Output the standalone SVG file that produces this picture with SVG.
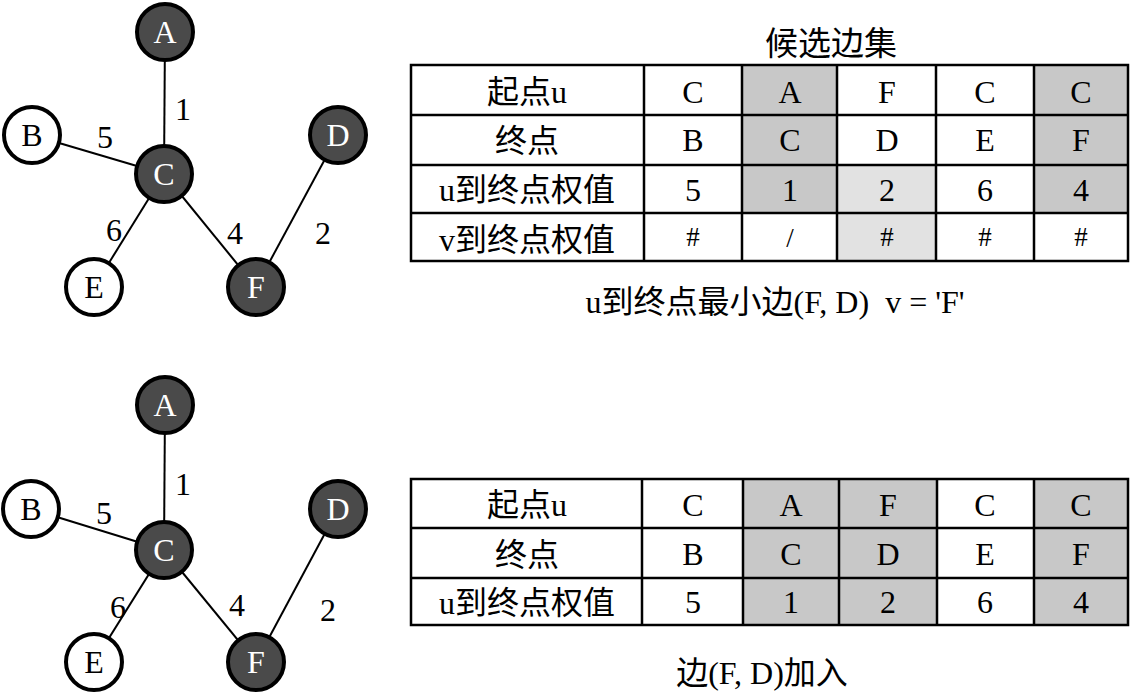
<svg xmlns="http://www.w3.org/2000/svg" width="1132" height="694" viewBox="0 0 1132 694">
<style>
text{font-family:"Liberation Serif","Noto Sans CJK SC",serif;fill:#000}
.nl{font-size:32px;text-anchor:middle}
.dk circle{fill:#4a4a4a;stroke:#000;stroke-width:4}
.dk text{fill:#fff}
.wt circle{fill:#fff;stroke:#000;stroke-width:4}
.edge{stroke:#000;stroke-width:2}
.wl{font-size:32px;text-anchor:middle}
.tt{font-size:32px;text-anchor:middle}
.grid{fill:none;stroke:#000;stroke-width:2.5}
.g1{fill:#c8c8c8}
.g2{fill:#e2e2e2}
.cap{font-size:32px;text-anchor:middle}
.hs{font-size:27px}
</style>

<!-- top graph connectors -->
<g id="edges-top">
<line class="edge" x1="165" y1="32" x2="164" y2="174"/>
<line class="edge" x1="32" y1="135" x2="164" y2="174"/>
<line class="edge" x1="164" y1="174" x2="94" y2="287"/>
<line class="edge" x1="164" y1="174" x2="256" y2="287"/>
<line class="edge" x1="338" y1="135" x2="256" y2="287"/>
<text class="wl" x="183" y="120">1</text>
<text class="wl" x="105" y="148">5</text>
<text class="wl" x="114" y="241">6</text>
<text class="wl" x="235" y="244">4</text>
<text class="wl" x="323" y="244">2</text>
</g>
<g id="t-A" class="dk"><circle cx="165" cy="32" r="28"/><text class="nl" x="165" y="43">A</text></g>
<g id="t-B" class="wt"><circle cx="32" cy="135" r="28"/><text class="nl" x="32" y="146">B</text></g>
<g id="t-C" class="dk"><circle cx="164" cy="174" r="28"/><text class="nl" x="164" y="185">C</text></g>
<g id="t-D" class="dk"><circle cx="338" cy="135" r="28"/><text class="nl" x="338" y="146">D</text></g>
<g id="t-E" class="wt"><circle cx="94" cy="287" r="28"/><text class="nl" x="94" y="298">E</text></g>
<g id="t-F" class="dk"><circle cx="256" cy="287" r="28"/><text class="nl" x="256" y="298">F</text></g>

<!-- bottom graph connectors -->
<g id="edges-bottom">
<line class="edge" x1="165" y1="405" x2="164" y2="550"/>
<line class="edge" x1="31" y1="509" x2="164" y2="550"/>
<line class="edge" x1="164" y1="550" x2="94" y2="662"/>
<line class="edge" x1="164" y1="550" x2="256" y2="662"/>
<line class="edge" x1="338" y1="509" x2="256" y2="662"/>
<text class="wl" x="183" y="495">1</text>
<text class="wl" x="104" y="524">5</text>
<text class="wl" x="118" y="618">6</text>
<text class="wl" x="237" y="616">4</text>
<text class="wl" x="328" y="621">2</text>
</g>
<g id="b-A" class="dk"><circle cx="165" cy="405" r="28"/><text class="nl" x="165" y="416">A</text></g>
<g id="b-B" class="wt"><circle cx="31" cy="509" r="28"/><text class="nl" x="31" y="520">B</text></g>
<g id="b-C" class="dk"><circle cx="164" cy="550" r="28"/><text class="nl" x="164" y="561">C</text></g>
<g id="b-D" class="dk"><circle cx="338" cy="509" r="28"/><text class="nl" x="338" y="520">D</text></g>
<g id="b-E" class="wt"><circle cx="94" cy="662" r="28"/><text class="nl" x="94" y="673">E</text></g>
<g id="b-F" class="dk"><circle cx="256" cy="662" r="28"/><text class="nl" x="256" y="673">F</text></g>

<!-- top table -->
<g id="table-top">
<text class="cap" x="831" y="55" style="font-size:33px">候选边集</text>
<rect class="g1" x="742" y="65" width="95" height="148"/>
<rect class="g1" x="1034" y="65" width="94" height="148"/>
<rect class="g2" x="837" y="165" width="99" height="96"/>
<rect class="grid" x="411" y="65" width="717" height="196"/>
<path class="grid" d="M411 115H1128M411 165H1128M411 213H1128M644 65V261M742 65V261M837 65V261M936 65V261M1034 65V261"/>
<text class="tt" x="527" y="103">起点u</text>
<text class="tt" x="693" y="103">C</text>
<text class="tt" x="790" y="103">A</text>
<text class="tt" x="887" y="103">F</text>
<text class="tt" x="985" y="103">C</text>
<text class="tt" x="1081" y="103">C</text>
<text class="tt" x="527" y="152">终点</text>
<text class="tt" x="693" y="151">B</text>
<text class="tt" x="790" y="151">C</text>
<text class="tt" x="887" y="151">D</text>
<text class="tt" x="985" y="151">E</text>
<text class="tt" x="1081" y="151">F</text>
<text class="tt" x="527" y="201">u到终点权值</text>
<text class="tt" x="693" y="201">5</text>
<text class="tt" x="790" y="201">1</text>
<text class="tt" x="887" y="201">2</text>
<text class="tt" x="985" y="201">6</text>
<text class="tt" x="1081" y="201">4</text>
<text class="tt" x="527" y="251">v到终点权值</text>
<text class="tt hs" x="693" y="246">#</text>
<text class="tt hs" x="790" y="247">/</text>
<text class="tt hs" x="887" y="246">#</text>
<text class="tt hs" x="985" y="246">#</text>
<text class="tt hs" x="1081" y="246">#</text>
<text class="cap" x="775" y="313">u到终点最小边(F, D)&#160; v = 'F'</text>
</g>

<!-- bottom table -->
<g id="table-bottom">
<rect class="g1" x="743" y="479" width="194" height="146"/>
<rect class="g1" x="1034" y="479" width="94" height="146"/>
<rect class="grid" x="411" y="479" width="717" height="146"/>
<path class="grid" d="M411 528H1128M411 578H1128M642 479V625M743 479V625M839 479V625M937 479V625M1034 479V625"/>
<text class="tt" x="527" y="516">起点u</text>
<text class="tt" x="693" y="516">C</text>
<text class="tt" x="791" y="516">A</text>
<text class="tt" x="888" y="516">F</text>
<text class="tt" x="985" y="516">C</text>
<text class="tt" x="1081" y="516">C</text>
<text class="tt" x="527" y="566">终点</text>
<text class="tt" x="693" y="565">B</text>
<text class="tt" x="791" y="565">C</text>
<text class="tt" x="888" y="565">D</text>
<text class="tt" x="985" y="565">E</text>
<text class="tt" x="1081" y="565">F</text>
<text class="tt" x="527" y="614">u到终点权值</text>
<text class="tt" x="693" y="613">5</text>
<text class="tt" x="791" y="613">1</text>
<text class="tt" x="888" y="613">2</text>
<text class="tt" x="985" y="613">6</text>
<text class="tt" x="1081" y="613">4</text>
<text class="cap" x="762" y="684">边(F, D)加入</text>
</g>
</svg>
